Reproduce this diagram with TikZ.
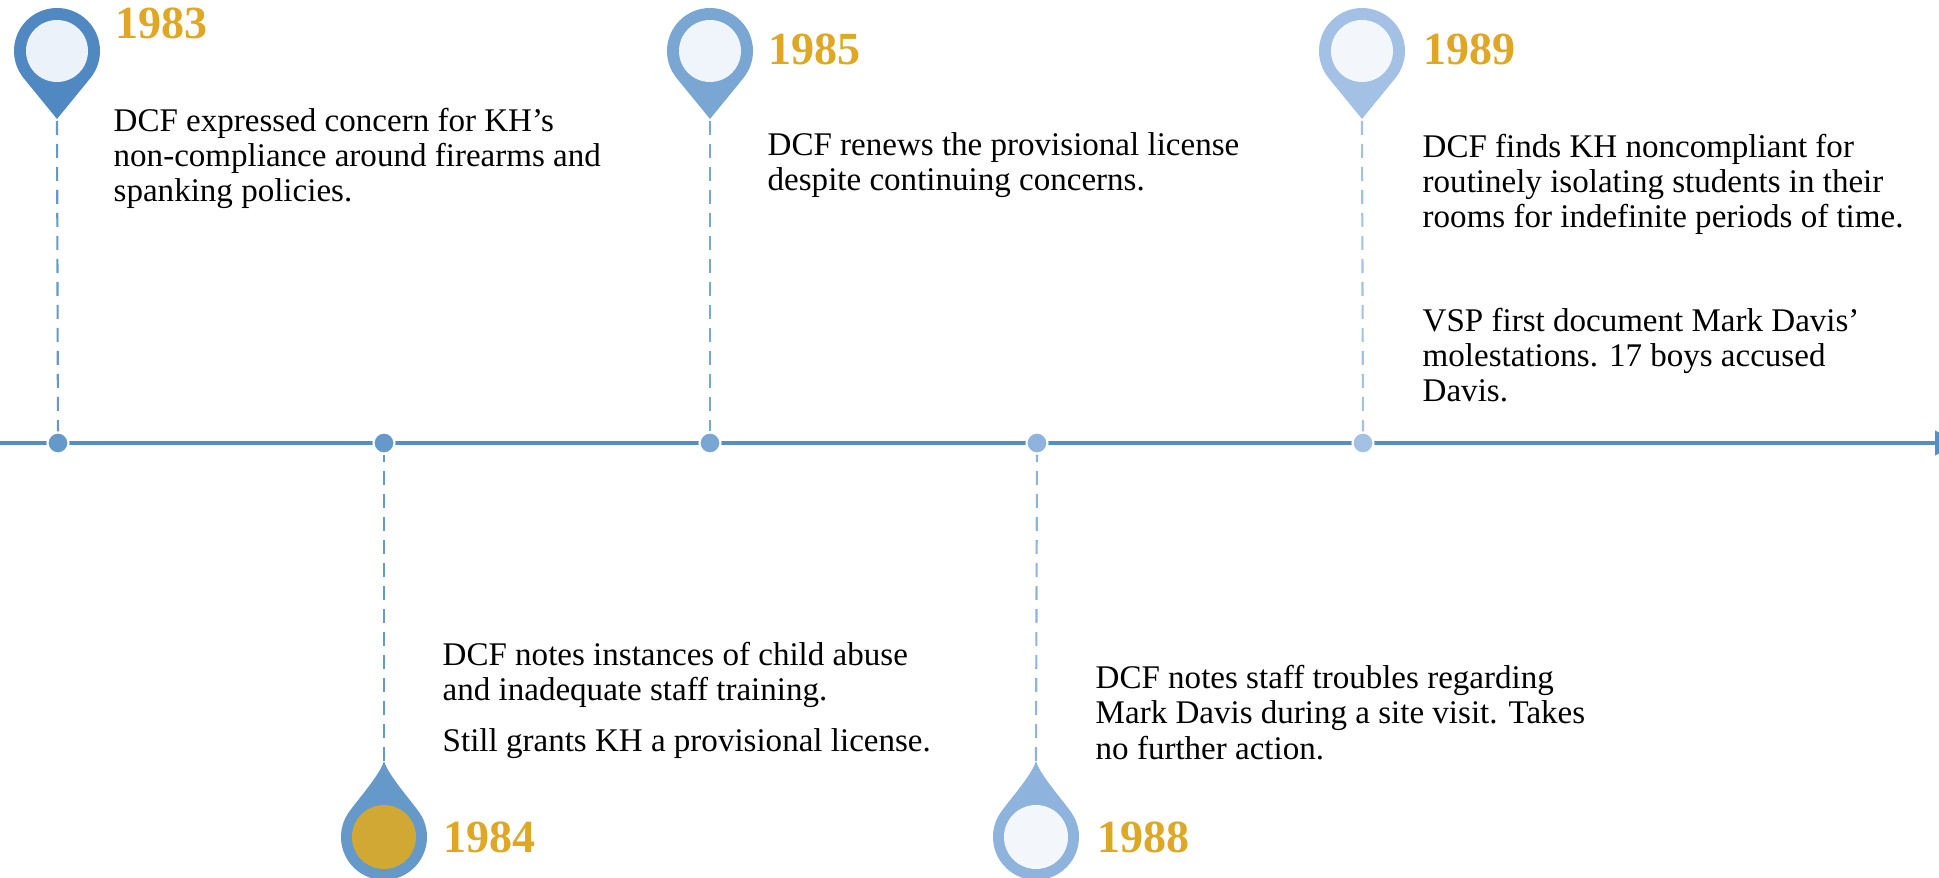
\documentclass[tikz,border=0pt]{standalone}
\usepackage{fontspec}
\setmainfont{Liberation Serif}
\usepackage{tikz}
\usetikzlibrary{arrows.meta, positioning}
\definecolor{axiscolor}{RGB}{84,143,196}
\definecolor{yearcolor}{RGB}{222,168,38}
\definecolor{goldcolor}{RGB}{210,168,52}
\definecolor{pinA}{RGB}{80,137,193}
\definecolor{pinB}{RGB}{100,153,201}
\definecolor{pinC}{RGB}{122,166,211}
\definecolor{pinD}{RGB}{142,179,220}
\definecolor{pinE}{RGB}{163,193,228}
\definecolor{paleA}{RGB}{236,242,249}
\definecolor{paleB}{RGB}{240,245,251}
\definecolor{paleC}{RGB}{243,247,252}

\begin{document}
\begin{tikzpicture}[
    x=1cm, y=1cm,
    pindown/.pic={\path[pic actions] (0,-0.68) -- (-39:0.43) arc[start angle=-39, end angle=219, radius=0.43] -- cycle;},
    pinup/.pic={\path[pic actions] (0,0.76) .. controls (0.04,0.62) and (0.266,0.37) .. (35:0.43) arc[start angle=35, end angle=-215, radius=0.43] .. controls (-0.266,0.37) and (-0.04,0.62) .. (0,0.76) -- cycle;},
    inner/.style={circle, fill=#1, minimum size=0.62cm, inner sep=0pt},
    dot/.style={circle, fill=#1, draw=white, line width=0.6pt, minimum size=2.1mm, inner sep=0pt},
    stem/.style={draw=#1, line width=0.6pt, dash pattern=on 1.4mm off 0.9mm},
    year/.style={anchor=base west, inner sep=0pt, text=yearcolor, font=\fontsize{13.1}{15}\selectfont\bfseries},
    note/.style={anchor=base west, inner sep=0pt, align=left, font=\fontsize{9.4}{9.96}\selectfont}
]
    \clip (0,0) rectangle (19.39,8.77);

    % Axis
    \coordinate (start) at (-0.2,4.34);
    \coordinate (end) at (19.59,4.34);
    \draw[axiscolor, line width=1.15pt, -{Triangle[width=2.4mm, length=2.4mm]}] (start) -- (end);

    % Dots on the axis
    \node[dot=pinB] (dot83) at (0.58,4.34) {};
    \node[dot=pinB] (dot84) at (3.84,4.34) {};
    \node[dot=pinC] (dot85) at (7.10,4.34) {};
    \node[dot=pinD] (dot88) at (10.37,4.34) {};
    \node[dot=pinE] (dot89) at (13.63,4.34) {};

    % Pins
    \pic[fill=pinA] at (0.57,8.26) {pindown};
    \pic[fill=pinC] at (7.10,8.26) {pindown};
    \pic[fill=pinE] at (13.62,8.26) {pindown};
    \pic[fill=pinB] at (3.84,0.40) {pinup};
    \pic[fill=pinD] at (10.36,0.40) {pinup};
    \node[inner=paleA] (c83) at (0.57,8.26) {};
    \node[inner=paleB] (c85) at (7.10,8.26) {};
    \node[inner=paleC] (c89) at (13.62,8.26) {};
    \node[inner=goldcolor, minimum size=0.64cm] (c84) at (3.84,0.40) {};
    \node[inner=paleC, minimum size=0.64cm] (c88) at (10.36,0.40) {};
    \coordinate (tip83) at (0.57,7.56);
    \coordinate (tip85) at (7.10,7.56);
    \coordinate (tip89) at (13.62,7.56);
    \coordinate (tip84) at (3.84,1.16);
    \coordinate (tip88) at (10.36,1.16);

    % Stems
    \draw[stem=pinB] (tip83) -- (dot83);
    \draw[stem=pinB] (tip84) -- (dot84);
    \draw[stem=pinC] (tip85) -- (dot85);
    \draw[stem=pinD] (tip88) -- (dot88);
    \draw[stem=pinE] (tip89) -- (dot89);

    % Years
    \node[year] (y83) at (1.15,8.38) {1983};
    \node[year] (y85) at (7.68,8.12) {1985};
    \node[year] (y89) at (14.23,8.12) {1989};
    \node[year] (y84) at (4.43,0.25) {1984};
    \node[year] (y88) at (10.97,0.25) {1988};

    % Notes (placed by the baseline of their last line)
    \node[note] (n83) at (1.13,6.75) {DCF expressed concern for KH’s\\non-compliance around firearms and\\spanking policies.};
    \node[note] (n85) at (7.67,6.86) {DCF renews the provisional license\\despite continuing concerns.};
    \node[note] (n89a) at (14.22,6.49) {DCF finds KH noncompliant for\\routinely isolating students in their\\rooms for indefinite periods of time.};
    \node[note] (n89b) at (14.22,4.75) {VSP first document Mark Davis’\\molestations. 17 boys accused\\Davis.};
    \node[note] (n84) at (4.42,1.26) {DCF notes instances of child abuse\\and inadequate staff training.\\[1.5mm]Still grants KH a provisional license.};
    \node[note] (n88) at (10.95,1.18) {DCF notes staff troubles regarding\\Mark Davis during a site visit. Takes\\no further action.};
\end{tikzpicture}
\end{document}
